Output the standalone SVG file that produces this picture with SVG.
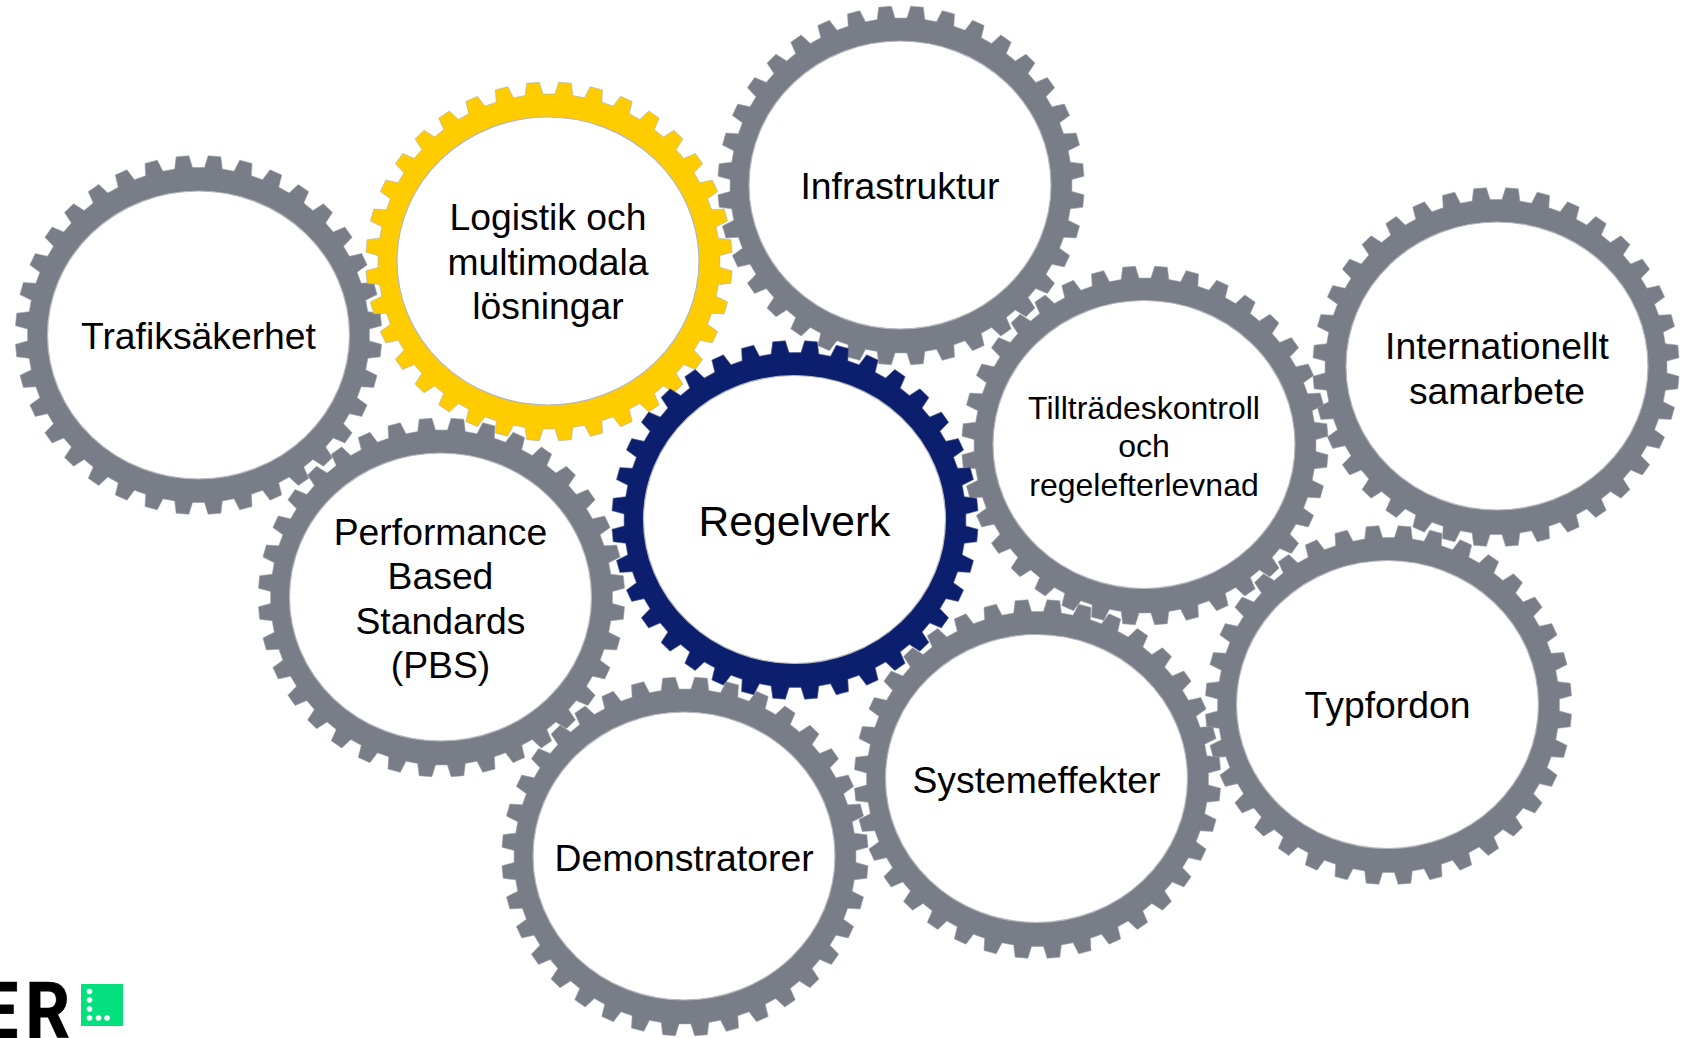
<svg xmlns="http://www.w3.org/2000/svg" width="1684" height="1038" viewBox="0 0 1684 1038">
<style>
.hole{fill:#fff;stroke:#b4b7bd;stroke-width:1.2}
.t{font-family:"Liberation Sans",Arial,sans-serif;fill:#000;text-anchor:middle;font-size:37.3px}
.s{font-size:32px}
.g{fill:#787d88;stroke:#9a9ea6;stroke-width:.6}
.y{fill:#ffcc00;stroke:#a9acb3}
.n{fill:#0b1f6e;stroke:#5a6488}
</style>
<defs>
<path id="gear" d="M6 -167.9L9.7 -179.8L22.5 -178.7L24 -166.4L35.8 -164.3L41.5 -175.4L53.9 -172.1L53.2 -159.8L64.5 -155.8L72.1 -165.7L83.8 -160.4L80.8 -148.3L91.3 -142.5L100.5 -151L111 -143.8L106 -132.4L115.2 -124.9L125.8 -131.6L134.9 -122.8L128 -112.4L135.7 -103.4L147.4 -108.3L154.7 -98L146 -89L152 -78.9L164.4 -81.7L169.8 -70.3L159.7 -62.9L163.8 -51.9L176.4 -52.6L179.8 -40.5L168.4 -34.9L170.5 -23.4L183.1 -21.9L184.3 -9.4L172.1 -5.9L172.1 5.9L184.3 9.4L183.1 21.9L170.5 23.4L168.4 34.9L179.8 40.5L176.4 52.6L163.8 51.9L159.7 62.9L169.8 70.3L164.4 81.7L152 78.9L146 89L154.7 98L147.4 108.3L135.7 103.4L128 112.4L134.9 122.8L125.8 131.6L115.2 124.9L106 132.4L111 143.8L100.5 151L91.3 142.5L80.8 148.3L83.8 160.4L72.1 165.7L64.5 155.8L53.2 159.8L53.9 172.1L41.5 175.4L35.8 164.3L24 166.4L22.5 178.7L9.7 179.8L6 167.9L-6 167.9L-9.7 179.8L-22.5 178.7L-24 166.4L-35.8 164.3L-41.5 175.4L-53.9 172.1L-53.2 159.8L-64.5 155.8L-72.1 165.7L-83.8 160.4L-80.8 148.3L-91.3 142.5L-100.5 151L-111 143.8L-106 132.4L-115.2 124.9L-125.8 131.6L-134.9 122.8L-128 112.4L-135.7 103.4L-147.4 108.3L-154.7 98L-146 89L-152 78.9L-164.4 81.7L-169.8 70.3L-159.7 62.9L-163.8 51.9L-176.4 52.6L-179.8 40.5L-168.4 34.9L-170.5 23.4L-183.1 21.9L-184.3 9.4L-172.1 5.9L-172.1 -5.9L-184.3 -9.4L-183.1 -21.9L-170.5 -23.4L-168.4 -34.9L-179.8 -40.5L-176.4 -52.6L-163.8 -51.9L-159.7 -62.9L-169.8 -70.3L-164.4 -81.7L-152 -78.9L-146 -89L-154.7 -98L-147.4 -108.3L-135.7 -103.4L-128 -112.4L-134.9 -122.8L-125.8 -131.6L-115.2 -124.9L-106 -132.4L-111 -143.8L-100.5 -151L-91.3 -142.5L-80.8 -148.3L-83.8 -160.4L-72.1 -165.7L-64.5 -155.8L-53.2 -159.8L-53.9 -172.1L-41.5 -175.4L-35.8 -164.3L-24 -166.4L-22.5 -178.7L-9.7 -179.8L-6 -167.9Z"/>
</defs>
<g id="connectors"></g>
<g id="infrastruktur"><use href="#gear" transform="translate(901 185.500) scale(.993 .997)" class="g"/><ellipse class="hole" cx="900" cy="185" rx="151" ry="144"/><text class="t" x="900" y="199">Infrastruktur</text></g>
<g id="internationellt"><use href="#gear" transform="translate(1496 367) scale(.993 .997)" class="g"/><ellipse class="hole" cx="1497" cy="366" rx="151" ry="144"/><text class="t" x="1497" y="359">Internationellt</text><text class="t" x="1497" y="403.500">samarbete</text></g>
<g id="typfordon"><use href="#gear" transform="translate(1388.500 705) scale(.993 .997)" class="g"/><ellipse class="hole" cx="1387.500" cy="704.500" rx="151" ry="144"/><text class="t" x="1387.500" y="718">Typfordon</text></g>
<g id="tilltrades"><use href="#gear" transform="translate(1145 445.500) scale(.993 .997)" class="g"/><ellipse class="hole" cx="1144" cy="444.500" rx="151" ry="144"/><text class="t s" x="1144" y="419">Tillträdeskontroll</text><text class="t s" x="1144" y="457">och</text><text class="t s" x="1144" y="496">regelefterlevnad</text></g>
<g id="systemeffekter"><use href="#gear" transform="translate(1037.500 779) scale(.993 .997)" class="g"/><ellipse class="hole" cx="1036.500" cy="778.500" rx="151" ry="144"/><text class="t" x="1036.500" y="793">Systemeffekter</text></g>
<g id="demonstratorer"><use href="#gear" transform="translate(685 856.500) scale(.993 .997)" class="g"/><ellipse class="hole" cx="684" cy="856" rx="151" ry="144"/><text class="t" x="684" y="871">Demonstratorer</text></g>
<g id="trafiksakerhet"><use href="#gear" transform="translate(198.500 335) scale(.993 .997)" class="g"/><ellipse class="hole" cx="198.500" cy="335" rx="151" ry="144"/><text class="t" x="198.500" y="349">Trafiksäkerhet</text></g>
<g id="performance"><use href="#gear" transform="translate(441.500 597.500) scale(.993 .997)" class="g"/><ellipse class="hole" cx="440.500" cy="597" rx="151" ry="144"/><text class="t" x="440.500" y="545">Performance</text><text class="t" x="440.500" y="589">Based</text><text class="t" x="440.500" y="634">Standards</text><text class="t" x="440.500" y="678">(PBS)</text></g>
<g id="logistik"><use href="#gear" transform="translate(549 261.500) scale(.993 .997)" class="g y"/><ellipse class="hole" cx="548" cy="261" rx="151" ry="144"/><text class="t" x="548" y="230">Logistik och</text><text class="t" x="548" y="275">multimodala</text><text class="t" x="548" y="319">lösningar</text></g>
<g id="regelverk"><use href="#gear" transform="translate(795 520) scale(.993 .997)" class="g n"/><ellipse class="hole" cx="794.500" cy="519.500" rx="151" ry="144"/><text class="t" style="font-size:42.600px" x="794.500" y="536">Regelverk</text></g>
<g id="logo"><text transform="translate(0 1038) scale(.9 1)" x="-23 28.300" y="0" style="font-family:'Roboto',sans-serif;font-weight:700;font-size:77px;fill:#000;stroke:#000;stroke-width:.8">ER</text><rect x="81" y="984" width="42" height="42" fill="#05e07e"/><g fill="#fff"><circle cx="89.500" cy="991.500" r="2.800"/><circle cx="89.500" cy="1000" r="2.800"/><circle cx="89.500" cy="1009" r="2.800"/><circle cx="89.500" cy="1018" r="2.800"/><circle cx="98.500" cy="1018" r="2.800"/><circle cx="107" cy="1018" r="2.800"/></g></g>
</svg>
